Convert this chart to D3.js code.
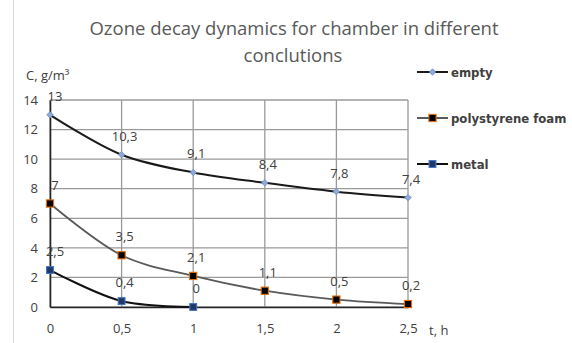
<!DOCTYPE html>
<meta charset="utf-8">
<style>
  body { margin: 0; background: #fff; }
  .title { font-family: "Open Sans"; font-size: 18.5px; fill: #595959; text-anchor: middle; }
  .tick text { font-family: "Open Sans"; font-size: 13px; fill: #404040; }
  .lbl { font-family: "Open Sans"; font-size: 13px; fill: #404040; text-anchor: middle; }
  .legend text { font-family: "DejaVu Sans Condensed"; font-weight: bold; font-size: 13px; fill: #404040; }
</style>
<svg width="572" height="343"></svg>
<script src="https://d3js.org/d3.v7.min.js"></script>
<script>
var times = [0, 0.5, 1, 1.5, 2, 2.5];
var empty = [13, 10.3, 9.1, 8.4, 7.8, 7.4];
var foam = [7, 3.5, 2.1, 1.1, 0.5, 0.2];
var metal = [2.5, 0.4, 0];
var seriesNames = ["empty", "polystyrene foam", "metal"];
var xTickLabels = ["0", "0,5", "1", "1,5", "2", "2,5"];
var yTicks = [0, 2, 4, 6, 8, 10, 12, 14];

var svg = d3.select("svg");

// chart frame (left edge only visible)
svg.append("line").attr("x1", 13.5).attr("x2", 13.5).attr("y1", 0).attr("y2", 343)
    .attr("stroke", "#d9d9d9");

var x = d3.scaleLinear().domain([0, 2.5]).range([50, 408]);
var y = d3.scaleLinear().domain([0, 14]).range([307, 100]);

// grid
svg.append("g").selectAll("line").data(yTicks).enter().append("line")
    .attr("x1", x(0)).attr("x2", x(2.5))
    .attr("y1", function (d) { return y(d); }).attr("y2", function (d) { return y(d); })
    .attr("stroke", "#9a9a9a").attr("stroke-width", 1.3);
svg.append("g").selectAll("line").data(times).enter().append("line")
    .attr("x1", function (d) { return x(d); }).attr("x2", function (d) { return x(d); })
    .attr("y1", y(0)).attr("y2", y(14))
    .attr("stroke", "#9a9a9a").attr("stroke-width", 1.3);

// axes
var yAxis = svg.append("g").attr("transform", "translate(" + x(0) + ",0)")
    .call(d3.axisLeft(y).tickValues(yTicks).tickSize(0).tickPadding(12));
yAxis.select(".domain").attr("stroke", "#262626").attr("stroke-width", 1.6);
var xAxis = svg.append("g").attr("transform", "translate(0," + y(0) + ")")
    .call(d3.axisBottom(x).tickValues(times).tickSize(0).tickPadding(17)
        .tickFormat(function (d, i) { return xTickLabels[i]; }));
xAxis.select(".domain").attr("stroke", "#262626").attr("stroke-width", 1.6);

svg.append("text").attr("class", "lbl").attr("x", 429).attr("y", 335)
    .style("text-anchor", "start").text("t, h");
svg.append("text").attr("class", "lbl").attr("x", 26).attr("y", 80)
    .style("text-anchor", "start").text("C, g/m³");

// title
svg.append("text").attr("class", "title").attr("x", 294).attr("y", 35)
    .text("Ozone decay dynamics for chamber in different");
svg.append("text").attr("class", "title").attr("x", 293).attr("y", 62)
    .text("conclutions");

var line = d3.line()
    .x(function (d, i) { return x(times[i]); })
    .y(function (d) { return y(d); })
    .curve(d3.curveCatmullRom.alpha(0.5));

var styles = [
    { data: empty, stroke: "#1a1a1a", w: 2, marker: "diamond", fill: "#8eaadb", mstroke: "#6b8cc0", size: 3.2 },
    { data: foam, stroke: "#595959", w: 1.8, marker: "square", fill: "#000", mstroke: "#e46c0a", size: 3.6 },
    { data: metal, stroke: "#111", w: 2, marker: "square", fill: "#1f3864", mstroke: "#4472c4", size: 3.4 }
];

styles.forEach(function (s) {
    svg.append("path").datum(s.data).attr("d", line)
        .attr("fill", "none").attr("stroke", s.stroke).attr("stroke-width", s.w);
});

function drawMarker(g, s, cx, cy) {
    if (s.marker === "diamond") {
        var r = s.size;
        g.append("path").attr("d", "M" + cx + "," + (cy - r) + "L" + (cx + r) + "," + cy +
            "L" + cx + "," + (cy + r) + "L" + (cx - r) + "," + cy + "Z")
            .attr("fill", s.fill).attr("stroke", s.mstroke).attr("stroke-width", 0.8);
    } else {
        g.append("rect").attr("x", cx - s.size).attr("y", cy - s.size)
            .attr("width", s.size * 2).attr("height", s.size * 2)
            .attr("fill", s.fill).attr("stroke", s.mstroke).attr("stroke-width", 1.1);
    }
}

styles.forEach(function (s) {
    var g = svg.append("g");
    s.data.forEach(function (v, i) {
        drawMarker(g, s, x(times[i]), y(v));
    });
});

// data labels
styles.forEach(function (s) {
    svg.append("g").selectAll("text").data(s.data).enter().append("text")
        .attr("class", "lbl")
        .attr("x", function (d, i) { return x(times[i]) + (i === 0 ? 5 : 3); })
        .attr("y", function (d) { return y(d) - 14; })
        .text(function (d) { return String(d).replace(".", ","); });
});

// legend
var legend = svg.append("g").attr("class", "legend");
styles.forEach(function (s, i) {
    var ly = 72 + i * 46;
    legend.append("line").attr("x1", 417).attr("x2", 448).attr("y1", ly).attr("y2", ly)
        .attr("stroke", s.stroke).attr("stroke-width", 2);
    drawMarker(legend, s, 432.5, ly);
    legend.append("text").attr("x", 451).attr("y", ly + 4.5).text(seriesNames[i]);
});
</script>
